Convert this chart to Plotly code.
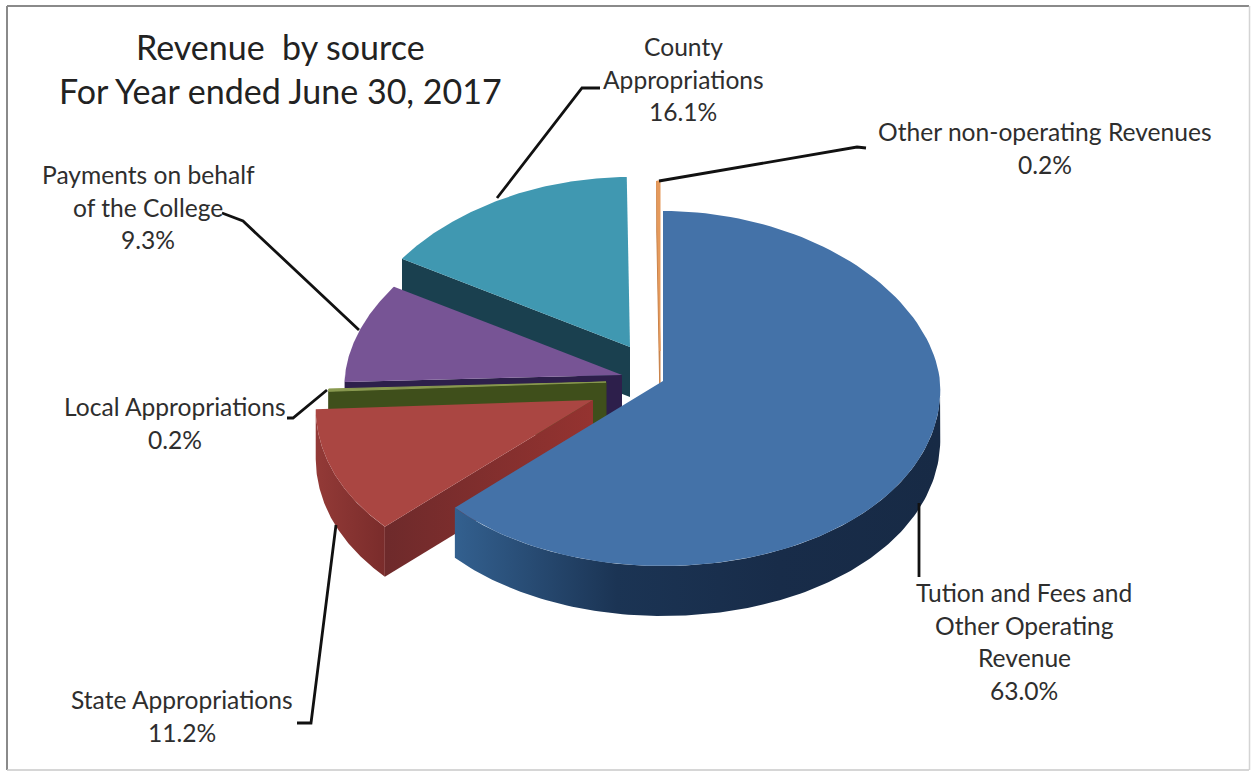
import math
import plotly.graph_objects as go

# Revenue shares, clockwise from twelve o'clock
categories = ["Tuition", "State", "Local", "Payments", "County", "Other"]
shares = [63.0, 11.2, 0.2, 9.3, 16.1, 0.2]

# Label lines for each slice
label_lines = {
    "Tuition": ["Tution and Fees and", "Other Operating", "Revenue"],
    "State": ["State Appropriations"],
    "Local": ["Local Appropriations"],
    "Payments": ["Payments on behalf", "of the College"],
    "County": ["County", "Appropriations"],
    "Other": ["Other non-operating Revenues"],
}
title_lines = ["Revenue  by source", "For Year ended June 30, 2017"]

# Pie geometry in page pixels
RX, RY_BACK, RY_FRONT, DEPTH = 277, 170, 185, 50
PERSPECTIVE_BACK, PERSPECTIVE_FRONT = 0.07, 0.045

# Where each exploded slice has its apex
apex = {
    "Tuition": (663, 381),
    "State": (593, 400),
    "Local": (606, 382),
    "Payments": (622, 375),
    "County": (630, 347),
    "Other": (660, 351),
}

top_color = {
    "Tuition": "#4472a8", "State": "#aa4642", "Local": "#8a9a50",
    "Payments": "#775495", "County": "#4098b1", "Other": "#e59a5c",
}
face_color = {
    "Tuition": "#1a2f4d", "State": ["#6e2a2b", "#953330"], "Local": "#3f4f1b",
    "Payments": "#2d1f4b", "County": "#1a404f", "Other": "#c9824a",
}
arc_color = {
    "Tuition": ["#33608f", "#1b3454", "#182c49", "#172a45"],
    "State": ["#933a37", "#7a2c2b"],
}

# Label anchor centres and leader polylines
label_pos = {
    "Tuition": (1024, 592.5), "State": (182, 699.5), "Local": (175, 406.5),
    "Payments": (148, 174.5), "County": (683, 46.5), "Other": (1045, 131.5),
}
leaders = {
    "Tuition": [(919, 503), (919, 577)],
    "State": [(336, 525), (311, 723), (297, 723)],
    "Local": [(327, 390), (293, 418), (287, 418)],
    "Payments": [(359, 330), (243, 221), (222, 213)],
    "County": [(497, 198), (582, 88), (600, 88)],
    "Other": [(659, 181), (857, 147), (866, 148)],
}
title_pos = [(280, 46), (280, 90)]

LINE_H = 32.7
TEXT_COLOR = "#2e2e2e"


def project(name, theta):
    """Screen position of the rim point at theta degrees clockwise from the top."""
    ax, ay = apex[name]
    s, c = math.sin(math.radians(theta)), math.cos(math.radians(theta))
    scale = 1 - (PERSPECTIVE_BACK if c > 0 else PERSPECTIVE_FRONT) * c
    x = ax + RX * s * scale
    y = ay - (RY_BACK if c > 0 else RY_FRONT) * c
    return x, y


def arc(name, t0, t1, n=120):
    return [project(name, t0 + (t1 - t0) * i / n) for i in range(n + 1)]


def polygon(points, color, outline=False):
    xs = [p[0] for p in points] + [points[0][0]]
    ys = [p[1] for p in points] + [points[0][1]]
    trace = dict(x=xs, y=ys, mode="lines", fill="toself", hoverinfo="skip", showlegend=False)
    if isinstance(color, list):
        step = 1 / (len(color) - 1)
        trace["fillgradient"] = dict(
            type="horizontal", colorscale=[[i * step, c] for i, c in enumerate(color)]
        )
        trace["line"] = dict(width=0)
    else:
        trace["fillcolor"] = color
        trace["line"] = dict(width=1 if outline else 0, color=color)
    return go.Scatter(**trace)


# Slice angle spans from the cumulative shares
spans = {}
running = 0.0
for name, share in zip(categories, shares):
    spans[name] = (running * 3.6, (running + share) * 3.6)
    running += share

fig = go.Figure()

# Paint back slices first so the nearer ones overlap them
for name in ["County", "Payments", "Other", "Local", "State", "Tuition"]:
    t0, t1 = spans[name]
    a = apex[name]
    thin = name in ("Other", "Local")
    if 180 <= t0 < 360:
        rim = project(name, t0)
        fig.add_trace(polygon(
            [a, rim, (rim[0], rim[1] + DEPTH), (a[0], a[1] + DEPTH)],
            face_color[name], outline=thin,
        ))
    lo, hi = max(t0, 90), min(t1, 270)
    if lo < hi:
        edge = arc(name, lo, hi)
        fig.add_trace(polygon(
            edge + [(x, y + DEPTH) for x, y in reversed(edge)],
            arc_color.get(name, face_color[name]),
        ))
    fig.add_trace(polygon([a] + arc(name, t0, t1), top_color[name], outline=thin))

# Leader lines
for name in categories:
    pts = leaders[name]
    fig.add_trace(go.Scatter(
        x=[p[0] for p in pts], y=[p[1] for p in pts], mode="lines",
        line=dict(color="#111111", width=2.8), hoverinfo="skip", showlegend=False,
    ))

# Slice labels, one line per annotation, percentage last
annotations = []
for name, share in zip(categories, shares):
    x, y = label_pos[name]
    for i, text in enumerate(label_lines[name] + [f"{share:.1f}%"]):
        annotations.append(dict(
            x=x, y=y + i * LINE_H, xref="x", yref="y", text=text, showarrow=False,
            xanchor="center", yanchor="middle",
            font=dict(family="Lato", size=24.6, color=TEXT_COLOR),
        ))
for (x, y), text in zip(title_pos, title_lines):
    annotations.append(dict(
        x=x, y=y, xref="x", yref="y", text=text, showarrow=False,
        xanchor="center", yanchor="middle",
        font=dict(family="Lato", size=34, color="#222222"),
    ))

# Picture frame
shapes = [
    dict(type="line", x0=7, x1=1249, y0=6, y1=6, line=dict(color="#8a8a8a", width=2)),
    dict(type="line", x0=7, x1=7, y0=6, y1=770, line=dict(color="#8a8a8a", width=2)),
    dict(type="line", x0=7, x1=1249, y0=770, y1=770, line=dict(color="#c8c8c8", width=1.5)),
    dict(type="line", x0=1249.5, x1=1249.5, y0=6, y1=770, line=dict(color="#d4d4d4", width=1.5)),
]

fig.update_layout(
    width=1251, height=771, autosize=False,
    margin=dict(l=0, r=0, t=0, b=0),
    paper_bgcolor="white", plot_bgcolor="white",
    xaxis=dict(range=[0, 1251], visible=False, fixedrange=True),
    yaxis=dict(range=[771, 0], visible=False, fixedrange=True),
    annotations=annotations, shapes=shapes, showlegend=False,
)

fig.write_html("out.html", config={"displayModeBar": False})
